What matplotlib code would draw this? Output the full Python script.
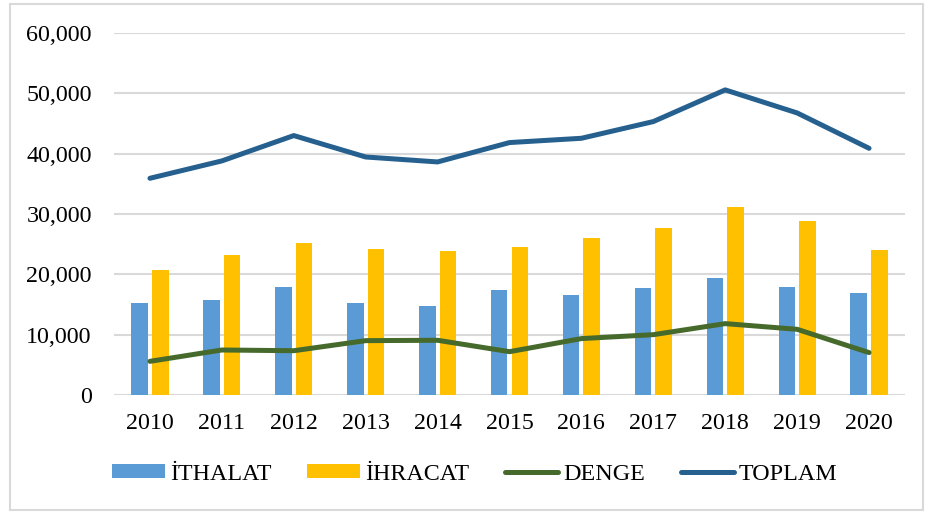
import matplotlib
matplotlib.use("Agg")
import matplotlib.pyplot as plt
import numpy as np
from matplotlib.patches import Rectangle
from matplotlib.ticker import FuncFormatter

years = ["2010", "2011", "2012", "2013", "2014", "2015", "2016", "2017", "2018", "2019", "2020"]
ithalat = [15170, 15670, 17830, 15220, 14780, 17330, 16600, 17660, 19370, 17930, 16930]
ihracat = [20750, 23130, 25170, 24230, 23850, 24510, 25950, 27660, 31200, 28820, 23960]
denge = [5580, 7460, 7340, 9010, 9070, 7180, 9350, 10000, 11830, 10890, 7030]
toplam = [35920, 38800, 43000, 39450, 38630, 41840, 42550, 45320, 50570, 46750, 40890]

plt.rcParams['font.family'] = ['Liberation Serif', 'DejaVu Serif']

fig = plt.figure(figsize=(9.27, 5.12), dpi=100)
ax = fig.add_axes([114/927, 1-395/512, (905-114)/927, (395-33)/512])

x = np.arange(len(years))
bw = 0.23
off = 0.143
b1 = ax.bar(x - off, ithalat, width=bw, color='#5B9BD5', label='İTHALAT', zorder=3)
b2 = ax.bar(x + off, ihracat, width=bw, color='#FFC000', label='İHRACAT', zorder=3)
l1, = ax.plot(x, denge, color='#466A2C', lw=3.6, solid_capstyle='round', label='DENGE', zorder=4)
l2, = ax.plot(x, toplam, color='#26608F', lw=3.6, solid_capstyle='round', label='TOPLAM', zorder=4)

ax.set_xlim(-0.5, len(years) - 0.5)
ax.set_ylim(0, 60000)
ax.set_yticks(np.arange(0, 60001, 10000))
ax.yaxis.set_major_formatter(FuncFormatter(lambda v, p: f"{int(v):,}"))
ax.set_xticks(x)
ax.set_xticklabels(years)
ax.grid(axis='y', color='#D9D9D9', lw=1.5, zorder=0)
ax.set_axisbelow(True)
for s in ax.spines.values():
    s.set_visible(False)
ax.tick_params(axis='both', length=0, labelsize=17.3, colors='black')
ax.tick_params(axis='y', pad=16)
ax.tick_params(axis='x', pad=13)

fig.legend(handles=[b1, b2, l1, l2], labels=['İTHALAT', 'İHRACAT', 'DENGE', 'TOPLAM'],
           loc='center', bbox_to_anchor=(0.512, 1-474/512), ncol=4, frameon=False,
           fontsize=17.3, handlelength=2.2, handleheight=0.5, handletextpad=0.2,
           columnspacing=1.5)

fig.patches.append(Rectangle((10/927, 1-510/512), (923-10)/927, (510-4)/512,
                             transform=fig.transFigure, fill=False,
                             edgecolor='#D9D9D9', lw=1.5))

fig.savefig("out.png", dpi=100)
